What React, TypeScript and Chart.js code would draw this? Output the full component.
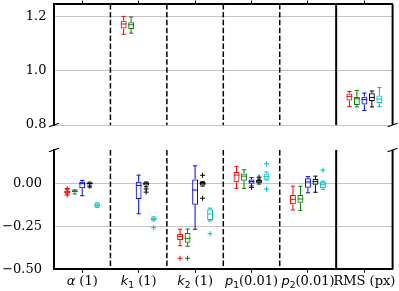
import React, { useEffect, useRef } from 'react';
import { Chart, registerables } from 'chart.js';

Chart.register(...registerables);

// ---------------- data ----------------
const categories = ['α (1)', 'k₁ (1)', 'k₂ (1)', 'p₁(0.01)', 'p₂(0.01)', 'RMS (px)'];
const seriesNames = ['red', 'green', 'blue', 'black', 'cyan'];
const seriesColors = ['#ff0000', '#008000', '#0000ff', '#000000', '#00bfbf'];

// each entry: [whiskerLow, q1, median, q3, whiskerHigh]
const redStats = [
  [-0.062, -0.057, -0.05, -0.043, -0.037],
  [1.136, 1.157, 1.174, 1.186, 1.202],
  [-0.363, -0.33, -0.31, -0.295, -0.267],
  [-0.029, 0.006, 0.048, 0.066, 0.099],
  [-0.155, -0.122, -0.093, -0.068, -0.016],
  [0.868, 0.891, 0.906, 0.917, 0.924],
];
const redOutliers = [[-0.03, -0.068], [], [-0.436], [], [], []];

const greenStats = [
  [-0.062, -0.052, -0.046, -0.04, -0.038],
  [1.14, 1.155, 1.171, 1.18, 1.2],
  [-0.366, -0.345, -0.32, -0.289, -0.266],
  [-0.029, 0.015, 0.042, 0.058, 0.079],
  [-0.157, -0.113, -0.091, -0.068, -0.017],
  [0.867, 0.874, 0.897, 0.904, 0.928],
];
const greenOutliers = [[], [], [-0.436], [], [], []];

const blueStats = [
  [-0.072, -0.029, -0.002, 0.009, 0.017],
  [-0.177, -0.091, -0.012, 0.009, 0.048],
  [-0.267, -0.124, -0.039, 0.023, 0.102],
  [-0.015, -0.002, 0.01, 0.023, 0.033],
  [-0.055, -0.026, 0.008, 0.029, 0.039],
  [0.854, 0.876, 0.894, 0.905, 0.918],
];
const blueOutliers = [[], [], [], [-0.024], [], []];

const blackStats = [
  [-0.022, -0.007, -0.001, 0.005, 0.007],
  [-0.02, -0.012, -0.002, 0.006, 0.008],
  [-0.016, -0.012, -0.002, 0.008, 0.01],
  [-0.004, 0.0, 0.008, 0.019, 0.025],
  [-0.052, -0.008, 0.01, 0.025, 0.042],
  [0.867, 0.889, 0.902, 0.918, 0.926],
];
const blackOutliers = [[-0.016], [-0.033, -0.051], [0.047, -0.087], [0.036], [], []];

const cyanStats = [
  [-0.14, -0.136, -0.127, -0.117, -0.113],
  [-0.219, -0.215, -0.207, -0.198, -0.195],
  [-0.219, -0.213, -0.178, -0.151, -0.144],
  [0.019, 0.023, 0.039, 0.058, 0.066],
  [-0.035, -0.029, -0.008, 0.009, 0.013],
  [0.868, 0.881, 0.896, 0.909, 0.939],
];
const cyanOutliers = [[], [-0.258], [-0.293], [0.114, -0.033], [0.077], []];

const topTicks = [0.8, 1.0, 1.2];
const topTickLabels = ['0.8', '1.0', '1.2'];
const bottomTicks = [-0.5, -0.25, 0];
const bottomTickLabels = ['−0.50', '−0.25', '0.00'];
const topRange = [0.8, 1.248];
const bottomRange = [-0.5, 0.194];
const PANEL_SPLIT = 0.5;

const seriesStats = [redStats, greenStats, blueStats, blackStats, cyanStats];
const seriesOutliers = [redOutliers, greenOutliers, blueOutliers, blackOutliers, cyanOutliers];

// ---------------- layout ----------------
const W = 399;
const H = 291;
const TOP_H = 138;
const FS = 13;
const SERIF = "'DejaVu Serif', serif";
const SANS = "'DejaVu Sans', sans-serif";
const FONT = { family: SERIF, size: FS };
const SUBS = '₀₁₂₃₄₅₆₇₈₉';

type Seg = { text: string; font: string; dy: number };

function labelSegments(label: string): Seg[] {
  const segs: Seg[] = [];
  Array.from(label).forEach((ch, idx) => {
    const sub = SUBS.indexOf(ch);
    if (sub >= 0) {
      segs.push({ text: String(sub), font: `${FS * 0.7}px ${SANS}`, dy: FS * 0.2 });
    } else if (idx === 0 && /[a-zα-ω]/.test(ch)) {
      segs.push({ text: ch, font: `italic ${FS}px ${SANS}`, dy: 0 });
    } else {
      const last = segs[segs.length - 1];
      const serifFont = `${FS}px ${SERIF}`;
      if (last && last.font === serifFont) last.text += ch;
      else segs.push({ text: ch, font: serifFont, dy: 0 });
    }
  });
  return segs;
}

function makeConfig(isTop: boolean): any {
  const inPanel = (s: number[] | null) =>
    s != null && (isTop ? s[2] > PANEL_SPLIT : s[2] <= PANEL_SPLIT);
  const tickVals = isTop ? topTicks : bottomTicks;
  const tickLabels = isTop ? topTickLabels : bottomTickLabels;
  const range = isTop ? topRange : bottomRange;

  const datasets = seriesStats.map((stats, k) => ({
    label: seriesNames[k],
    data: stats.map((s) => (inPanel(s) ? [s[1], s[3]] : null)),
    backgroundColor: 'rgba(255,255,255,0)',
    borderColor: seriesColors[k],
    borderWidth: 1,
    borderSkipped: false,
    categoryPercentage: 0.665,
    barPercentage: 0.78,
  }));

  const line = (ctx: CanvasRenderingContext2D, x1: number, y1: number, x2: number, y2: number) => {
    ctx.beginPath();
    ctx.moveTo(x1, y1);
    ctx.lineTo(x2, y2);
    ctx.stroke();
  };

  const plugin = {
    id: 'boxDecor',
    beforeDatasetsDraw(chart: any) {
      const { ctx, chartArea: a } = chart;
      const x = chart.scales.x;
      ctx.save();
      ctx.strokeStyle = '#000';
      for (let i = 0; i < categories.length - 1; i++) {
        const px = (x.getPixelForValue(i) + x.getPixelForValue(i + 1)) / 2;
        const solid = i === categories.length - 2;
        ctx.setLineDash(solid ? [] : [5.5, 2.4]);
        ctx.lineWidth = solid ? 2 : 1.5;
        line(ctx, px, a.top, px, a.bottom);
      }
      ctx.restore();
    },
    afterDatasetsDraw(chart: any) {
      const { ctx } = chart;
      const yS = chart.scales.y;
      ctx.save();
      ctx.lineWidth = 1;
      ctx.setLineDash([]);
      seriesStats.forEach((stats, k) => {
        const meta = chart.getDatasetMeta(k);
        ctx.strokeStyle = seriesColors[k];
        stats.forEach((s, i) => {
          if (!inPanel(s)) return;
          const bar = meta.data[i];
          const cx = bar.x;
          const w = bar.width;
          const [lo, q1, med, q3, hi] = s.map((v: number) => yS.getPixelForValue(v));
          const cap = (w * 0.72) / 2;
          line(ctx, cx, q1, cx, lo);
          line(ctx, cx - cap, lo, cx + cap, lo);
          line(ctx, cx, q3, cx, hi);
          line(ctx, cx - cap, hi, cx + cap, hi);
          line(ctx, cx - w / 2, med, cx + w / 2, med);
          seriesOutliers[k][i].forEach((v: number) => {
            const py = yS.getPixelForValue(v);
            line(ctx, cx - 2.5, py, cx + 2.5, py);
            line(ctx, cx, py - 2.5, cx, py + 2.5);
          });
        });
      });
      ctx.restore();
    },
    afterDraw(chart: any) {
      const { ctx, chartArea: a } = chart;
      ctx.save();
      ctx.strokeStyle = '#000';
      ctx.setLineDash([]);
      ctx.lineWidth = 2;
      line(ctx, a.right, a.top, a.right, a.bottom);
      ctx.lineWidth = 1.2;
      const by = isTop ? a.bottom : a.top;
      [a.left, a.right].forEach((bx: number) => line(ctx, bx - 5, by + 1.8, bx + 5, by - 1.8));

      if (!isTop) {
        // category labels with math-style italic symbols and subscripts
        const x = chart.scales.x;
        ctx.fillStyle = '#000';
        ctx.textBaseline = 'alphabetic';
        ctx.textAlign = 'left';
        const baseY = a.bottom + 15.7;
        chart.data.labels.forEach((lab: string, i: number) => {
          const segs = labelSegments(lab);
          let total = 0;
          const widths = segs.map((sg) => {
            ctx.font = sg.font;
            const wd = ctx.measureText(sg.text).width;
            total += wd;
            return wd;
          });
          let px = x.getPixelForValue(i) - total / 2;
          segs.forEach((sg, j) => {
            ctx.font = sg.font;
            ctx.fillText(sg.text, px, baseY + sg.dy);
            px += widths[j];
          });
        });
      }
      ctx.restore();
    },
  };

  return {
    type: 'bar',
    data: { labels: categories, datasets },
    plugins: [plugin],
    options: {
      responsive: false,
      maintainAspectRatio: false,
      animation: false,
      devicePixelRatio: 1,
      layout: {
        padding: isTop
          ? { left: 0, right: 6.4, top: 0.5, bottom: TOP_H - 125 }
          : { left: 0, right: 6.4, top: 150 - TOP_H, bottom: 0 },
      },
      plugins: { legend: { display: false }, tooltip: { enabled: false } },
      scales: {
        x: {
          type: 'category',
          position: isTop ? 'top' : 'bottom',
          offset: true,
          grid: {
            offset: false,
            drawOnChartArea: false,
            drawTicks: true,
            tickLength: 3.5,
            color: '#000',
            lineWidth: 1,
          },
          border: { display: true, color: '#000', width: 2 },
          ticks: { display: false },
          afterFit: (s: any) => {
            s.height = isTop ? 3.5 : H - 269.3;
            s.paddingLeft = 0;
            s.paddingRight = 0;
          },
        },
        y: {
          type: 'linear',
          min: range[0],
          max: range[1],
          afterBuildTicks: (s: any) => {
            s.ticks = tickVals.map((v) => ({ value: v }));
          },
          grid: { color: '#c4c4c4', lineWidth: 1, drawTicks: false },
          border: { display: true, color: '#000', width: 2 },
          ticks: {
            font: FONT,
            color: '#000',
            padding: isTop ? 7.5 : 12,
            callback: (v: number) => {
              const idx = tickVals.indexOf(v);
              return idx >= 0 ? tickLabels[idx] : String(v);
            },
          },
          afterFit: (s: any) => {
            s.width = 54;
            s.paddingTop = 0;
            s.paddingBottom = 0;
          },
        },
      },
    },
  };
}

export default function App() {
  const topRef = useRef<HTMLCanvasElement>(null);
  const botRef = useRef<HTMLCanvasElement>(null);

  useEffect(() => {
    const c1 = new Chart(topRef.current as HTMLCanvasElement, makeConfig(true));
    const c2 = new Chart(botRef.current as HTMLCanvasElement, makeConfig(false));
    return () => {
      c1.destroy();
      c2.destroy();
    };
  }, []);

  return (
    <div style={{ position: 'fixed', left: 0, top: 0, width: W, height: H, background: '#fff' }}>
      <canvas
        ref={topRef}
        width={W}
        height={TOP_H}
        style={{ position: 'absolute', left: 0, top: 0, width: W, height: TOP_H }}
      />
      <canvas
        ref={botRef}
        width={W}
        height={H - TOP_H}
        style={{ position: 'absolute', left: 0, top: TOP_H, width: W, height: H - TOP_H }}
      />
    </div>
  );
}
